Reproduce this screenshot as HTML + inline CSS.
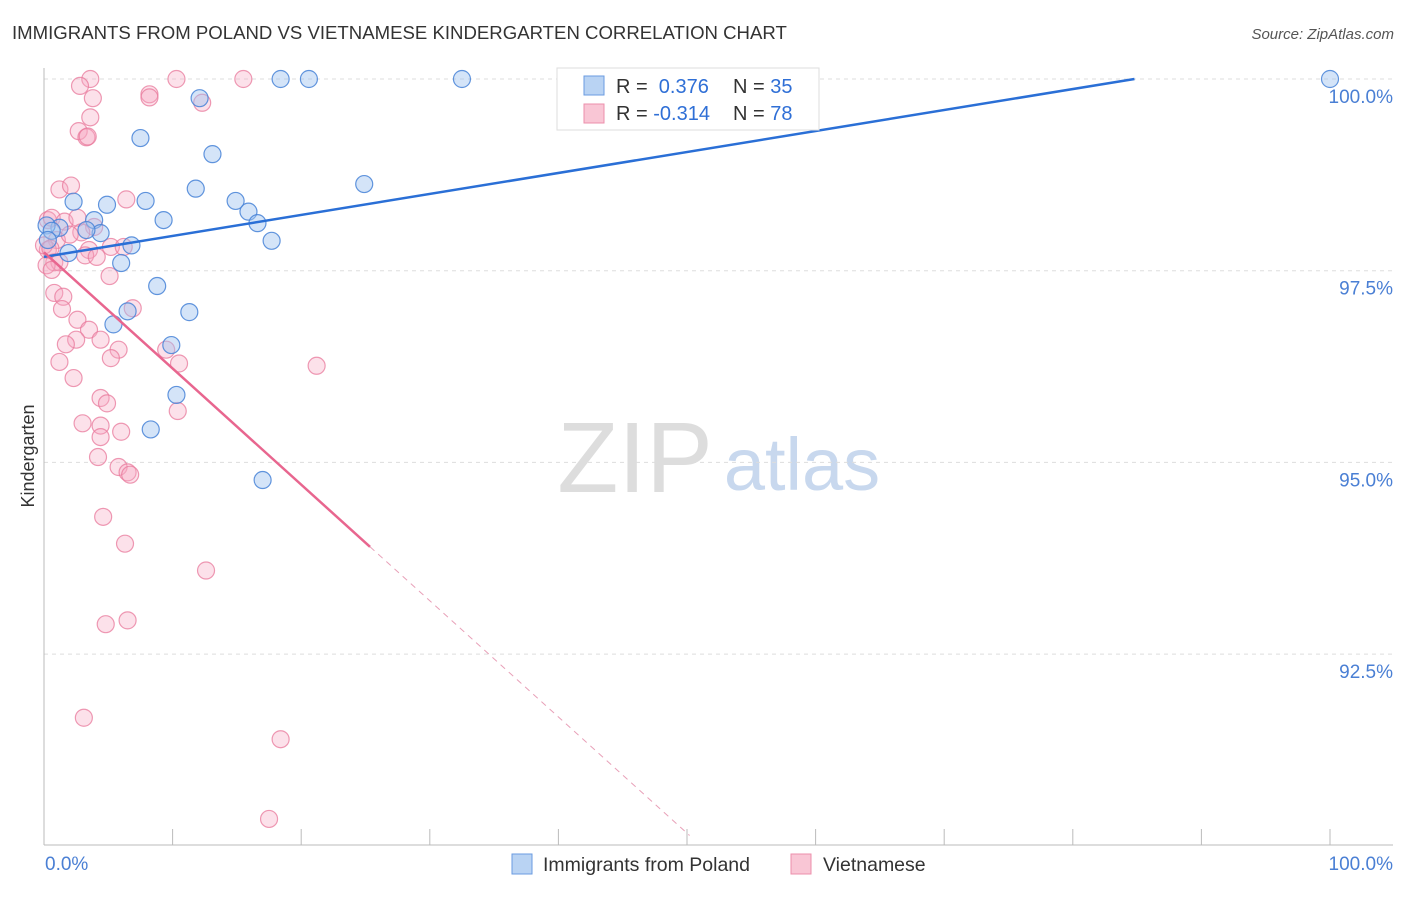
<!DOCTYPE html>
<html><head><meta charset="utf-8"><style>
body{margin:0;background:#fff;font-family:"Liberation Sans",sans-serif;}
svg text{font-family:"Liberation Sans",sans-serif;}
</style></head><body>
<svg id="chart" width="1406" height="892" xmlns="http://www.w3.org/2000/svg">
<text x="12" y="39" font-size="18.6" fill="#333">IMMIGRANTS FROM POLAND VS VIETNAMESE KINDERGARTEN CORRELATION CHART</text>
<text x="1394" y="39" font-size="15" fill="#555" font-style="italic" text-anchor="end">Source: ZipAtlas.com</text>
<text x="635" y="492" font-size="100" fill="#ddd" font-family="Liberation Serif" text-anchor="middle">ZIP</text>
<text x="802" y="490" font-size="74" fill="#c8d8ee" text-anchor="middle">atlas</text>
<text transform="translate(34,456) rotate(-90)" font-size="18" fill="#333" text-anchor="middle">Kindergarten</text>
<g id="grid"></g><g id="marks"></g>
<g>
<rect x="557" y="68" width="262" height="62" fill="#fff" stroke="#ddd"/>
<rect x="584" y="76" width="20" height="19" fill="#b9d3f3" stroke="#6a9be0"/>
<rect x="584" y="104" width="20" height="19" fill="#f9c6d5" stroke="#ec8fab"/>
<text x="616" y="93" font-size="20" fill="#333">R = <tspan fill="#2f6fd6">&#160;0.376</tspan><tspan x="733">N = </tspan><tspan fill="#2f6fd6">35</tspan></text>
<text x="616" y="120" font-size="20" fill="#333">R = <tspan fill="#2f6fd6">-0.314</tspan><tspan x="733">N = </tspan><tspan fill="#2f6fd6">78</tspan></text>
</g>
<g>
<rect x="512" y="854" width="20" height="20" fill="#b9d3f3" stroke="#6a9be0"/>
<text x="543" y="871" font-size="19.5" fill="#333">Immigrants from Poland</text>
<rect x="791" y="854" width="20" height="20" fill="#f9c6d5" stroke="#ec8fab"/>
<text x="823" y="871" font-size="19.5" fill="#333">Vietnamese</text>
</g>
</svg>
<script>
const yTicks=[100,97.5,95,92.5];
const yTickLabels=["100.0%","97.5%","95.0%","92.5%"];
const xTicks=[0,10,20,30,40,50,60,70,80,90,100];
const polandX=[100,32.5,20.6,18.4,12.1,7.5,13.1,24.9,11.8,14.9,7.9,2.3,4.9,15.9,9.3,16.6,3.9,1.2,4.4,0.2,0.6,3.3,6.8,17.7,1.9,6.0,8.8,11.3,6.5,5.4,9.9,10.3,8.3,17.0,0.3];
const polandY=[100,100,100,100,99.75,99.23,99.02,98.63,98.57,98.41,98.41,98.40,98.36,98.27,98.16,98.12,98.16,98.06,97.99,98.09,98.02,98.03,97.83,97.89,97.73,97.60,97.30,96.96,96.97,96.80,96.53,95.88,95.43,94.77,97.90];
const vietX=[3.6,10.3,15.5,2.8,8.2,8.2,3.8,12.3,3.6,2.7,3.3,3.4,1.2,2.1,6.4,0.3,0.6,1.6,2.6,3.9,2.9,1.0,2.0,3.5,0.3,0.8,1.2,3.2,4.1,5.2,6.2,5.1,0.8,1.5,1.4,6.9,2.6,3.5,2.5,1.7,4.4,5.8,5.2,9.5,10.5,1.2,2.3,21.2,4.4,4.9,10.4,3.0,4.4,6.0,4.4,4.2,5.8,6.5,6.7,4.6,6.3,12.6,4.8,6.5,3.1,18.4,17.5,0,0.5,0.2,0.6];
const vietY=[100,100,100,99.91,99.80,99.76,99.75,99.69,99.50,99.32,99.24,99.25,98.56,98.61,98.43,98.16,98.19,98.14,98.19,98.07,98.00,97.90,97.97,97.77,97.77,97.61,97.61,97.70,97.68,97.81,97.81,97.43,97.21,97.16,97.00,97.01,96.86,96.73,96.60,96.54,96.60,96.47,96.36,96.47,96.29,96.31,96.10,96.26,95.84,95.77,95.67,95.51,95.48,95.40,95.33,95.07,94.94,94.87,94.84,94.29,93.94,93.59,92.89,92.94,91.67,91.39,90.35,97.83,97.79,97.57,97.51];
const polandFit=[97.68,0.02736];
const vietFit=[97.74,-0.1515];
const X=v=>44+v*12.86, Y=v=>79+(100-v)*76.68;
const NS="http://www.w3.org/2000/svg";
function mk(tag,attrs,parent){const e=document.createElementNS(NS,tag);for(const k in attrs)e.setAttribute(k,attrs[k]);parent.appendChild(e);return e;}
const grid=document.getElementById('grid'),marks=document.getElementById('marks');
yTicks.forEach((t,i)=>{
 const l=mk('line',{x1:44,x2:1393,y1:Y(t),y2:Y(t),stroke:'#ddd','stroke-dasharray':'4,4'},grid);
 
 
 const tx=mk('text',{x:1393,y:Y(t)+24,'font-size':19,fill:'#4a7fd4','text-anchor':'end'},grid);
 tx.textContent=yTickLabels[i];
 
 
});
const ax=mk('line',{x1:44,x2:44,y1:68,y2:845,stroke:'#bbb'},grid);


const bx=mk('line',{x1:44,x2:1393,y1:845,y2:845,stroke:'#bbb'},grid);


xTicks.forEach(t=>{
 const l=mk('line',{x1:X(t),x2:X(t),y1:829,y2:845,stroke:'#bbb'},grid);
 
 
});
[[0,'0.0%','start',45],[100,'100.0%','end',1393]].forEach(a=>{
 const tx=mk('text',{x:a[3],y:870,'font-size':19,fill:'#4a7fd4','text-anchor':a[2]},grid);
 tx.textContent=a[1];
 
 
});
vietX.forEach((x,i)=>{
 const c=mk('circle',{cx:X(x),cy:Y(vietY[i]),r:8.5,fill:'rgba(246,170,195,0.35)',stroke:'rgba(232,120,155,0.75)','stroke-width':1.2},marks);
 
 
});
polandX.forEach((x,i)=>{
 const c=mk('circle',{cx:X(x),cy:Y(polandY[i]),r:8.5,fill:'rgba(160,196,240,0.45)',stroke:'rgba(70,130,215,0.85)','stroke-width':1.2},marks);
 
 
});
const pEnd=(100-polandFit[0])/polandFit[1];
const pl=mk('line',{x1:X(0),y1:Y(polandFit[0]),x2:X(pEnd),y2:Y(100),stroke:'#2a6fd6','stroke-width':2.5},marks);


const vs=25.35,ve=50.2;
const vl=mk('line',{x1:X(0),y1:Y(vietFit[0]),x2:X(vs),y2:Y(vietFit[0]+vietFit[1]*vs),stroke:'#e8668f','stroke-width':2.5},marks);


const vd=mk('line',{x1:X(vs),y1:Y(vietFit[0]+vietFit[1]*vs),x2:X(ve),y2:Y(vietFit[0]+vietFit[1]*ve),stroke:'#e8a0b8','stroke-width':1,'stroke-dasharray':'6,5'},marks);


</script>
</body></html>
